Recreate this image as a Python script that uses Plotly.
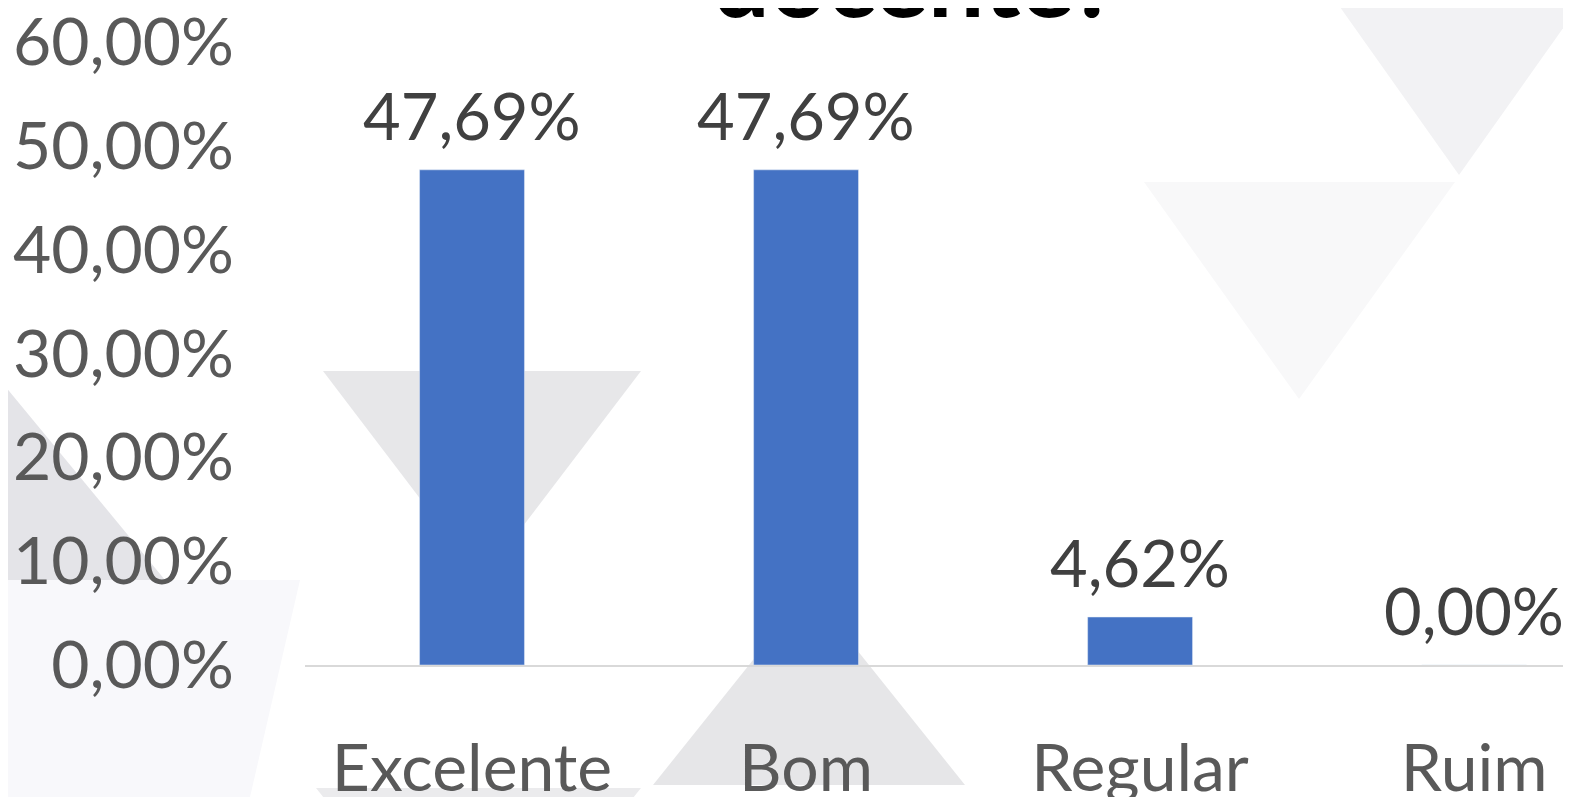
import plotly.graph_objects as go

# dados do gráfico
categorias = ["Excelente", "Bom", "Regular", "Ruim"]
percentuais = [0.4769, 0.4769, 0.0462, 0.0]
ticks_y = [0, 0.1, 0.2, 0.3, 0.4, 0.5, 0.6]

AZUL = "#4472C4"
W, H = 1563, 789      # a página tem 8px de margem no body
L, T, B = 297, 34, 132

def px(x, y):
    # converte pixels da página (1571x797) para coordenadas "paper"
    return (x - 305) / 1266, (665 - y) / 623

def poligono(pts, cor):
    p = [px(x, y) for x, y in pts]
    path = "M " + " L ".join("{} {}".format(a, b) for a, b in p) + " Z"
    return dict(type="path", path=path, xref="paper", yref="paper",
                fillcolor=cor, line=dict(width=0), layer="below")

# triângulos decorativos do fundo
fundo = [
    poligono([(0, 580), (300, 580), (250, 797), (0, 797)], "#f8f8fb"),
    poligono([(1335, 0), (1583, 0), (1459, 175)], "#f2f2f4"),
    poligono([(1144, 182), (1455, 182), (1299, 399)], "#f8f8f9"),
    poligono([(323, 371), (641, 371), (482, 580)], "#e7e7e9"),
    poligono([(0, 380), (0, 580), (165, 580)], "#e4e4e8"),
    poligono([(653, 785), (965, 785), (809, 590)], "#e6e6e8"),
    poligono([(316, 788), (641, 788), (478, 990)], "#ebebed"),
]

fig = go.Figure()
fig.add_bar(x=categorias, y=percentuais, marker_color=AZUL, width=0.314)

# rótulos de dados
for cat, val in zip(categorias, percentuais):
    fig.add_annotation(x=cat, y=val, text=f"{val * 100:.2f}%".replace(".", ","),
                       showarrow=False, yanchor="bottom", yshift=14,
                       font=dict(size=65, color="#404040", family="Lato"))

tx, ty = px(915, 40)
fig.add_annotation(text="<b>docente?</b>", x=tx, y=ty, xref="paper", yref="paper",
                   xanchor="center", yanchor="bottom", showarrow=False,
                   font=dict(size=100, color="black", family="Lato"))

fig.update_layout(
    width=W, height=H,
    margin=dict(l=L, r=0, t=T, b=B),
    separators=",.",
    plot_bgcolor="rgba(0,0,0,0)",
    paper_bgcolor="white",
    showlegend=False,
    shapes=fundo,
    font=dict(family="Lato", color="#595959"),
    xaxis=dict(range=[-0.5, 3.29], showline=True, linecolor="#d9d9d9", linewidth=2,
               showgrid=False, tickfont=dict(size=66), ticklabelstandoff=45,
               ticks="", automargin=False, ticklabeloverflow="allow"),
    yaxis=dict(range=[0, 0.6], tickvals=ticks_y, tickformat=".2%",
               showgrid=False, zeroline=False, tickfont=dict(size=66),
               ticklabelstandoff=70, automargin=False, ticklabeloverflow="allow"),
)

fig.write_html("out.html")
